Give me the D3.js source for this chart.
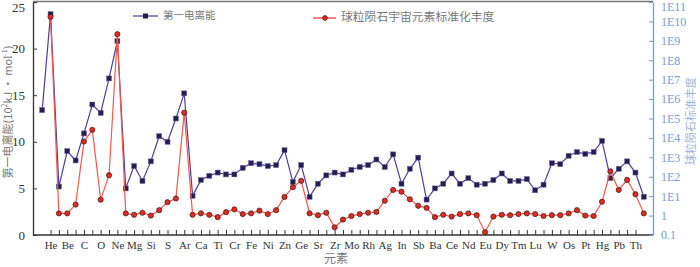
<!DOCTYPE html>
<html>
<head>
<meta charset="utf-8">
<script src="https://cdn.jsdelivr.net/npm/d3@7"></script>
<style>
  body { margin: 0; background: #fff; }
  text { font-family: "Liberation Serif", "Noto Sans CJK SC", serif; }
  .cjk { font-family: "Noto Sans CJK SC", sans-serif; }
</style>
</head>
<body>
<div id="chart"></div>
<script>
const width = 700,
    height = 267;

// Elements along the x axis (only every other one gets a label)
const elements = ["H", "He", "Li", "Be", "B", "C", "N", "O", "F", "Ne",
    "Na", "Mg", "Al", "Si", "P", "S", "Cl", "Ar", "K", "Ca",
    "Sc", "Ti", "V", "Cr", "Mn", "Fe", "Co", "Ni", "Cu", "Zn",
    "Ga", "Ge", "Rb", "Sr", "Y", "Zr", "Nb", "Mo", "Ru", "Rh",
    "Pd", "Ag", "Cd", "In", "Sn", "Sb", "Cs", "Ba", "La", "Ce",
    "Pr", "Nd", "Sm", "Eu", "Gd", "Dy", "Ho", "Tm", "Yb", "Lu",
    "Hf", "W", "Re", "Os", "Ir", "Pt", "Au", "Hg", "Tl", "Pb",
    "Bi", "Th", "U"];

// first ionization energy, 10^2 kJ/mol
const ionization = [13.4, 23.7, 5.2, 9.0, 8.0, 10.9, 14.0, 13.1, 16.8, 20.8,
    5.0, 7.4, 5.8, 7.9, 10.6, 10.0, 12.5, 15.2, 4.2, 5.9,
    6.35, 6.7, 6.5, 6.5, 7.2, 7.7, 7.6, 7.4, 7.5, 9.1,
    5.7, 7.5, 4.1, 5.5, 6.4, 6.7, 6.5, 7.0, 7.3, 7.5,
    8.1, 7.3, 8.65, 5.5, 7.1, 8.3, 3.8, 5.0, 5.5, 6.6,
    5.5, 6.1, 5.4, 5.5, 5.9, 6.6, 5.8, 5.8, 6.0, 4.8,
    5.4, 7.7, 7.6, 8.5, 8.9, 8.7, 8.9, 10.1, 6.1, 7.1,
    7.9, 6.7, 4.1];

// chondrite normalized cosmic abundance (no value for H)
const abundance = [null, 1.7e10, 1.3, 1.3, 3.7, 6500, 2.6e4, 6.6, 120, 2.2e9,
    1.3, 1.1, 1.4, 1.0, 1.9, 4.9, 7.6, 2.0e5, 1.1, 1.3,
    1.1, 0.83, 1.5, 2.1, 1.2, 1.3, 1.8, 1.2, 1.9, 9.1,
    29, 62, 1.3, 1.05, 1.4, 0.25, 0.62, 0.95, 1.2, 1.4,
    1.55, 5.8, 21, 17, 6.9, 3.2, 2.5, 0.83, 1.1, 0.89,
    1.2, 1.3, 1.05, 0.14, 0.89, 1.1, 1.05, 1.2, 1.3, 1.2,
    0.95, 1.05, 1.05, 1.3, 1.9, 1.0, 0.95, 5.2, 190, 21,
    69, 12.6, 1.3];

const leftTicks = [0, 5, 10, 15, 20, 25];
const rightTicks = [0.1, 1, 1e1, 1e2, 1e3, 1e4, 1e5, 1e6, 1e7, 1e8, 1e9, 1e10, 1e11];

const seriesNames = ["第一电离能", "球粒陨石宇宙元素标准化丰度"];

const plot = { left: 33, right: 653, top: 2, bottom: 235 };

let svg = d3.select('#chart').append('svg')
    .attr('width', width)
    .attr('height', height);

let x = d3.scalePoint()
    .domain(elements)
    .range([plot.left, plot.right])
    .padding(1.1);

let yLeft = d3.scaleLinear()
    .domain([0, 25])
    .range([plot.bottom, plot.top]);

let yRight = d3.scaleLog()
    .domain([0.1, 1e11])
    .range([plot.bottom, plot.top]);

// top frame line
svg.append("line")
    .attr("x1", plot.left).attr("x2", plot.right)
    .attr("y1", plot.top - 0.5).attr("y2", plot.top - 0.5)
    .attr("stroke", "#777").attr("stroke-width", 1.5);

// x axis: ticks point up, labels on every other element
let xAxis = svg.append("g")
    .attr("transform", `translate(0,${plot.bottom})`)
    .call(d3.axisBottom(x)
        .tickValues(elements.slice(1, -1))
        .tickSizeInner(-5)
        .tickSizeOuter(0)
        .tickPadding(6)
        .tickFormat((d, i) => i % 2 === 0 ? d : ""));
xAxis.select(".domain").attr("stroke", "#333").attr("stroke-width", 1.3)
    .attr("d", `M${plot.left},0H${plot.right}`);
xAxis.selectAll(".tick line").attr("stroke", "#333");
xAxis.selectAll("text").attr("fill", "#333").style("font-size", "11px");

// left axis
let leftAxis = svg.append("g")
    .attr("transform", `translate(${plot.left},0)`)
    .call(d3.axisLeft(yLeft)
        .tickValues(leftTicks)
        .tickSizeInner(-4)
        .tickSizeOuter(0)
        .tickPadding(8));
leftAxis.select(".domain").attr("stroke", "#333").attr("stroke-width", 1.3);
leftAxis.selectAll(".tick line").attr("stroke", "#333");
leftAxis.selectAll("text").attr("fill", "#333").style("font-size", "13px");
// keep the top label inside the picture
leftAxis.selectAll("text").filter(d => d === 25).attr("dy", "0.75em");

// right axis (log)
const rightColor = "#7d9ad0";
let rightAxis = svg.append("g")
    .attr("transform", `translate(${plot.right},0)`)
    .call(d3.axisRight(yRight)
        .tickValues(rightTicks)
        .tickSizeInner(-4)
        .tickSizeOuter(0)
        .tickPadding(8)
        .tickFormat(d => d === 0.1 ? "0.1" : d === 1 ? "1" : "1E" + Math.round(Math.log10(d))));
rightAxis.select(".domain").attr("stroke", rightColor).attr("stroke-width", 1.3);
rightAxis.selectAll(".tick line").attr("stroke", rightColor);
rightAxis.selectAll("text").attr("fill", rightColor).style("font-size", "12px");
rightAxis.selectAll("text").filter(d => d === 1e11).attr("dy", "0.7em");

// axis titles
let leftTitle = svg.append("text")
    .attr("class", "cjk")
    .attr("transform", "translate(9,112) rotate(-90)")
    .attr("text-anchor", "middle")
    .attr("dominant-baseline", "middle")
    .attr("fill", "#777")
    .style("font-size", "11px");
leftTitle.append("tspan").text("第一电离能(10");
leftTitle.append("tspan").attr("dy", -4).style("font-size", "7px").text("2");
leftTitle.append("tspan").attr("dy", 4).text("kJ · mol");
leftTitle.append("tspan").attr("dy", -4).style("font-size", "7px").text("-1");
leftTitle.append("tspan").attr("dy", 4).text(")");

svg.append("text")
    .attr("class", "cjk")
    .attr("transform", "translate(692,121) rotate(-90)")
    .attr("text-anchor", "middle")
    .attr("dominant-baseline", "middle")
    .attr("fill", "#9cb3dc")
    .style("font-size", "11px")
    .text("球粒陨石标准丰度");

svg.append("text")
    .attr("class", "cjk")
    .attr("x", 336).attr("y", 260)
    .attr("text-anchor", "middle")
    .attr("dominant-baseline", "middle")
    .attr("fill", "#777")
    .style("font-size", "12px")
    .text("元素");

// series
const blueLine = "#4b3d9a", blueMark = "#231f4f";
const redLine = "#f2574a", redMark = "#e02a22";

let ionLine = d3.line()
    .x((d, i) => x(elements[i]))
    .y(d => yLeft(d));

svg.append("path")
    .datum(ionization)
    .attr("fill", "none")
    .attr("stroke", blueLine)
    .attr("stroke-width", 1.2)
    .attr("d", ionLine);

svg.append("g")
    .selectAll("rect")
    .data(ionization)
    .enter()
    .append("rect")
    .attr("x", (d, i) => x(elements[i]) - 2.5)
    .attr("y", d => yLeft(d) - 2.5)
    .attr("width", 5)
    .attr("height", 5)
    .attr("fill", blueMark)
    .attr("stroke", "#6a63a8")
    .attr("stroke-width", 0.5);

let abLine = d3.line()
    .defined(d => d !== null)
    .x((d, i) => x(elements[i]))
    .y(d => yRight(d));

svg.append("path")
    .datum(abundance)
    .attr("fill", "none")
    .attr("stroke", redLine)
    .attr("stroke-width", 1.2)
    .attr("d", abLine);

svg.append("g")
    .selectAll("circle")
    .data(abundance.map((v, i) => ({ name: elements[i], v: v })).filter(d => d.v !== null))
    .enter()
    .append("circle")
    .attr("cx", d => x(d.name))
    .attr("cy", d => yRight(d.v))
    .attr("r", 2.6)
    .attr("fill", redMark)
    .attr("stroke", "#3a1a1a")
    .attr("stroke-width", 0.7);

// legend
let legend = svg.append("g");
legend.append("line")
    .attr("x1", 133).attr("x2", 158).attr("y1", 16).attr("y2", 16)
    .attr("stroke", blueLine).attr("stroke-width", 1.2);
legend.append("rect")
    .attr("x", 143).attr("y", 13.5).attr("width", 5).attr("height", 5)
    .attr("fill", blueMark);
legend.append("text")
    .attr("class", "cjk")
    .attr("x", 163).attr("y", 16)
    .attr("dominant-baseline", "middle")
    .attr("fill", "#777")
    .style("font-size", "10.5px")
    .text(seriesNames[0]);

legend.append("line")
    .attr("x1", 313).attr("x2", 336).attr("y1", 18).attr("y2", 18)
    .attr("stroke", redLine).attr("stroke-width", 1.5);
legend.append("circle")
    .attr("cx", 325).attr("cy", 18).attr("r", 2.4)
    .attr("fill", redMark).attr("stroke", "#3a1a1a").attr("stroke-width", 0.7);
legend.append("text")
    .attr("class", "cjk")
    .attr("x", 341).attr("y", 18)
    .attr("dominant-baseline", "middle")
    .attr("fill", "#777")
    .style("font-size", "11.8px")
    .text(seriesNames[1]);
</script>
</body>
</html>
